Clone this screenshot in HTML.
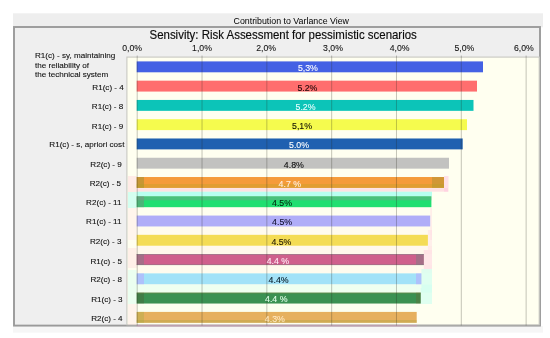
<!DOCTYPE html>
<html><head><meta charset="utf-8"><title>Contribution to Variance View</title>
<style>
html,body{margin:0;padding:0;background:#fff;}
body{width:550px;height:338px;position:relative;overflow:hidden;font-family:"Liberation Sans",Arial,sans-serif;color:#111;}
div{position:absolute;box-sizing:border-box;white-space:nowrap;}
svg{position:absolute;left:0;top:0;}
.hdrt{left:0;top:15.9px;width:582.5px;text-align:center;font-size:8.83px;line-height:10px;color:#000;}
.title{left:149.5px;top:28.6px;font-size:11.46px;line-height:13px;color:#0c0c0c;-webkit-text-stroke:0.15px #0c0c0c;transform:scaleY(1.05);transform-origin:0 80%;}
.v{font-size:8.8px;line-height:10px;-webkit-text-stroke:0.1px currentColor;}
.ax{font-size:8.7px;line-height:10px;width:40px;text-align:center;top:43.2px;color:#151515;-webkit-text-stroke:0.1px #151515;}
.lb{font-size:8.1px;line-height:10px;color:#101010;-webkit-text-stroke:0.1px #101010;}
.r{right:425.6px;text-align:right;}
</style></head><body>
<svg width="550" height="338" viewBox="0 0 550 338">
<rect x="13" y="13.3" width="530" height="14" fill="#eeeeee"/>
<rect x="13" y="326" width="530" height="6.6" fill="#f6f6f6"/>
<rect x="14" y="27" width="526" height="298.6" fill="#efefef" stroke="#9a9a9a" stroke-width="1.9"/>
<rect x="126.9" y="57.1" width="412.3" height="267.7" fill="#fffff0" stroke="#c8c8c2" stroke-width="1.1"/>

<rect x="136.7" y="207.5" width="295.3" height="8.1" fill="#fff0e8" opacity="0.08"/>
<rect x="136.7" y="226.8" width="295.3" height="8.0" fill="#fff0e8" opacity="0.28"/>
<rect x="136.7" y="246.0" width="295.3" height="8.1" fill="#ffe8e0" opacity="0.32"/>
<rect x="136.7" y="265.3" width="295.3" height="8.1" fill="#fff0e8" opacity="0.25"/>
<rect x="136.7" y="284.6" width="295.3" height="8.0" fill="#e0fff0" opacity="0.5"/>
<rect x="136.7" y="303.8" width="283.3" height="8.1" fill="#f8fff0" opacity="0.4"/>
<rect x="128" y="176" width="8.7" height="16" fill="#ffd0d8" opacity="0.42"/>
<rect x="128" y="192" width="8.7" height="16" fill="#a0fff0" opacity="0.45"/>
<rect x="128" y="208" width="8.7" height="32" fill="#ffd8e0" opacity="0.25"/>
<rect x="128" y="248" width="8.7" height="20" fill="#ffd0d8" opacity="0.32"/>
<rect x="128" y="270" width="8.7" height="34" fill="#c0fff0" opacity="0.32"/>
<rect x="128" y="304" width="8.7" height="21" fill="#ffd8e0" opacity="0.28"/>
<rect x="136.7" y="188.1" width="311.3" height="3.6" fill="#ffc8d8" opacity="0.55"/>
<rect x="136.7" y="191.7" width="295.3" height="4.6" fill="#a0fff0" opacity="0.75"/>
<rect x="444" y="176" width="4.5" height="15.7" fill="#ffc8e0" opacity="0.55"/>
<rect x="430.2" y="208" width="1.8" height="32" fill="#ffd8e0" opacity="0.4"/>
<rect x="427.9" y="230" width="4.1" height="20" fill="#ffd8e0" opacity="0.4"/>
<rect x="423.8" y="250" width="8.2" height="19" fill="#ffd0e0" opacity="0.5"/>
<rect x="421.4" y="269" width="10.6" height="19" fill="#c0fff0" opacity="0.5"/>
<rect x="420.7" y="288" width="11.3" height="16" fill="#c0fff0" opacity="0.5"/>
<rect x="136.7" y="61.40" width="346.3" height="10.9" fill="#4461e4"/>
<rect x="136.7" y="80.67" width="340.3" height="10.9" fill="#ff6e6e"/>
<rect x="136.7" y="99.94" width="336.8" height="10.9" fill="#0cc4b8"/>
<rect x="136.7" y="119.21" width="330.3" height="10.9" fill="#f5fb4e"/>
<rect x="136.7" y="138.48" width="326.0" height="10.9" fill="#1f60b0"/>
<rect x="136.7" y="157.75" width="312.3" height="10.9" fill="#c2c2c0"/>
<rect x="136.7" y="177.02" width="307.3" height="10.9" fill="#f59b3a"/>
<rect x="136.7" y="196.29" width="294.7" height="10.9" fill="#20df70"/>
<rect x="136.7" y="215.56" width="293.5" height="10.9" fill="#b0adf8"/>
<rect x="136.7" y="234.83" width="291.2" height="10.9" fill="#f4dc55"/>
<rect x="136.7" y="254.10" width="287.1" height="10.9" fill="#cf5f8c"/>
<rect x="136.7" y="273.37" width="284.7" height="10.9" fill="#a2e2f8"/>
<rect x="136.7" y="292.64" width="284.0" height="10.9" fill="#3a9152"/>
<rect x="136.7" y="311.91" width="280.0" height="10.9" fill="#e6b05e"/>
<rect x="136.7" y="177.02" width="7.3" height="10.9" fill="#909030" opacity="0.45"/>
<rect x="432" y="177.02" width="12.0" height="10.9" fill="#909030" opacity="0.35"/>
<rect x="136.7" y="196.29" width="7.3" height="10.9" fill="#808080" opacity="0.45"/>
<rect x="136.7" y="254.10" width="7.3" height="10.9" fill="#708080" opacity="0.45"/>
<rect x="416" y="254.10" width="7.8" height="10.9" fill="#708080" opacity="0.45"/>
<rect x="136.7" y="273.37" width="7.3" height="10.9" fill="#c090ff" opacity="0.4"/>
<rect x="416" y="273.37" width="5.4" height="10.9" fill="#c090ff" opacity="0.4"/>
<rect x="136.7" y="292.64" width="7.3" height="10.9" fill="#505030" opacity="0.3"/>
<rect x="416" y="292.64" width="4.7" height="10.9" fill="#706030" opacity="0.3"/>
<rect x="136.7" y="311.91" width="7.3" height="10.9" fill="#a0b040" opacity="0.35"/>
<rect x="136.7" y="184.0" width="307.3" height="4.0" fill="#b0a020" opacity="0.28"/>
<rect x="136.7" y="196.3" width="294.7" height="4.0" fill="#909090" opacity="0.38"/>
<rect x="136.7" y="254.0" width="287.1" height="1.0" fill="#708080" opacity="0.45"/>
<rect x="136.7" y="264.2" width="287.1" height="1.0" fill="#708080" opacity="0.45"/>
<rect x="136.7" y="292.5" width="284.0" height="1.1" fill="#908040" opacity="0.35"/>
<rect x="136.7" y="320.0" width="280.0" height="2.8" fill="#a0a040" opacity="0.3"/>
<rect x="136.7" y="324.7" width="280.3" height="1.9" fill="#e090c0" opacity="0.35"/>
<rect x="136.70" y="55.5" width="1" height="270" fill="#28281e" opacity="0.27"/>
<rect x="201.52" y="55.5" width="1" height="270" fill="#28281e" opacity="0.27"/>
<rect x="266.34" y="55.5" width="1" height="270" fill="#28281e" opacity="0.27"/>
<rect x="331.16" y="55.5" width="1" height="270" fill="#28281e" opacity="0.27"/>
<rect x="395.98" y="55.5" width="1" height="270" fill="#28281e" opacity="0.27"/>
<rect x="460.80" y="55.5" width="1" height="270" fill="#28281e" opacity="0.27"/>
<rect x="525.62" y="55.5" width="1" height="270" fill="#28281e" opacity="0.27"/>
</svg>
<div class="hdrt">Contribution to Varlance View</div>
<div class="title">Sensivity: Risk Assessment for pessimistic scenarios</div>
<div class="ax" style="left:112.2px">0,0%</div>
<div class="ax" style="left:182.0px">1,0%</div>
<div class="ax" style="left:246.2px">2,0%</div>
<div class="ax" style="left:313.0px">3,0%</div>
<div class="ax" style="left:379.7px">4,0%</div>
<div class="ax" style="left:444.4px">5,0%</div>
<div class="ax" style="left:503.8px">6,0%</div>
<div class="lb" style="left:35px;top:51.2px;line-height:9.6px">R1(c) - sy, maintaining<br>the reliability of<br>the technical system</div>
<div class="v" style="left:297.9px;top:63.2px;color:#ffffff">5,3%</div>
<div class="lb r" style="top:83px;right:426.2px">R1(c) - 4</div>
<div class="v" style="left:297.4px;top:82.5px;color:#200808">5.2%</div>
<div class="lb r" style="top:102px;right:426.7px">R1(c) - 8</div>
<div class="v" style="left:295.5px;top:101.7px;color:#e8ffff">5.2%</div>
<div class="lb r" style="top:122px;right:426.7px">R1(c) - 9</div>
<div class="v" style="left:292.0px;top:121.0px;color:#101000">5,1%</div>
<div class="lb r" style="top:140px;right:425.6px">R1(c) - s, apriori cost</div>
<div class="v" style="left:289.0px;top:140.3px;color:#ffffff">5.0%</div>
<div class="lb r" style="top:160px;right:428.2px">R2(c) - 9</div>
<div class="v" style="left:283.8px;top:159.6px;color:#0c0c0c">4.8%</div>
<div class="lb r" style="top:179px;right:428.9px">R2(c) - 5</div>
<div class="v" style="left:278.6px;top:178.8px;color:#fff0e0">4.7 %</div>
<div class="lb r" style="top:198px;right:428.5px">R2(c) - 11</div>
<div class="v" style="left:272.0px;top:198.1px;color:#002810">4.5%</div>
<div class="lb r" style="top:217px;right:428.5px">R1(c) - 11</div>
<div class="v" style="left:272.1px;top:217.4px;color:#101030">4.5%</div>
<div class="lb r" style="top:237px;right:428.5px">R2(c) - 3</div>
<div class="v" style="left:271.4px;top:236.6px;color:#201800">4.5%</div>
<div class="lb r" style="top:257px;right:428.1px">R1(c) - 5</div>
<div class="v" style="left:266.7px;top:255.9px;color:#ffe8f4">4.4 %</div>
<div class="lb r" style="top:275px;right:428.1px">R2(c) - 8</div>
<div class="v" style="left:268.6px;top:275.2px;color:#081c28">4.4%</div>
<div class="lb r" style="top:295px;right:427.4px">R1(c) - 3</div>
<div class="v" style="left:265.0px;top:294.4px;color:#e0ffe8">4.4 %</div>
<div class="lb r" style="top:314px;right:427.4px">R2(c) - 4</div>
<div class="v" style="left:264.8px;top:313.7px;color:#ffe8c0">4.3%</div>
</body></html>
